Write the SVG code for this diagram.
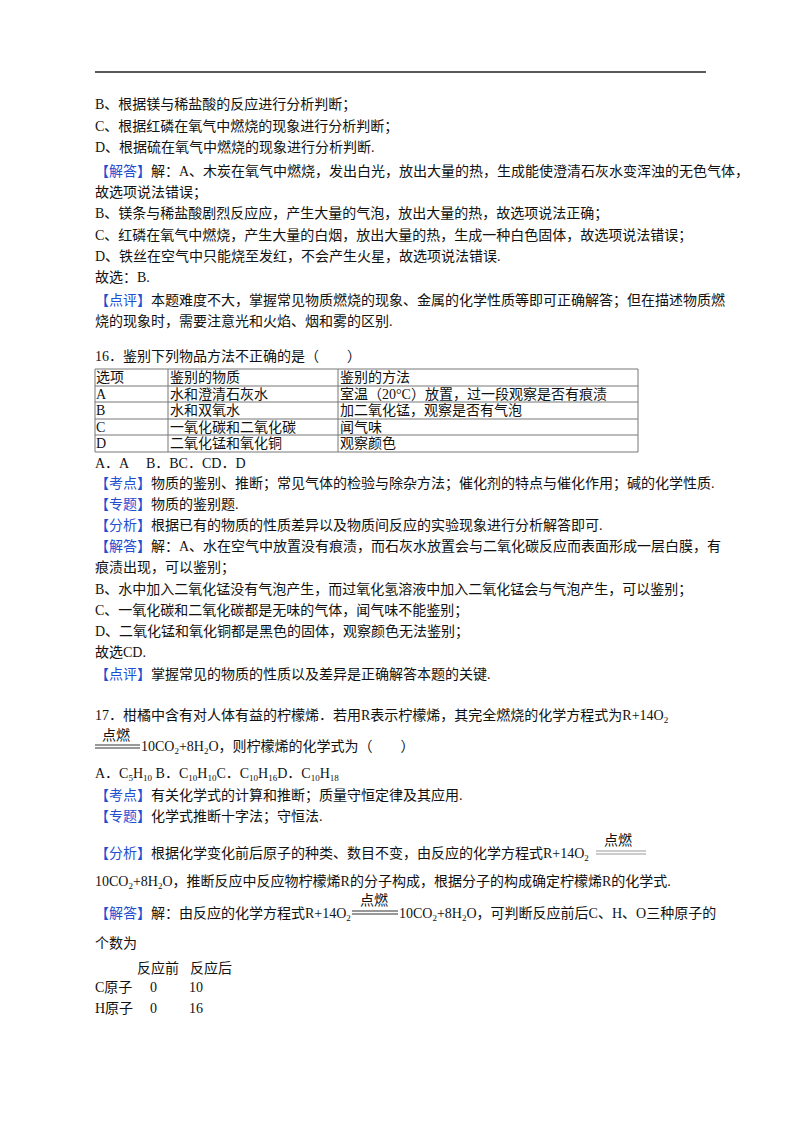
<svg xmlns="http://www.w3.org/2000/svg" width="800" height="1132" viewBox="0 0 800 1132">
<style>
text{font-family:"Liberation Serif","Noto Sans CJK SC",serif;font-size:14px;fill:#111}
.b{fill:#1f4fd0}
.s{font-size:9px}
.t line{stroke:#777;stroke-width:1}
</style>
<rect width="800" height="1132" fill="#fff"/>
<line x1="95" y1="72" x2="706" y2="72" stroke="#222" stroke-width="1.5"/>
<g id="text1">
<text x="95" y="109">B、根据镁与稀盐酸的反应进行分析判断；</text>
<text x="95" y="131">C、根据红磷在氧气中燃烧的现象进行分析判断；</text>
<text x="95" y="152">D、根据硫在氧气中燃烧的现象进行分析判断.</text>
<text x="95" y="176"><tspan class="b">【解答】</tspan>解：A、木炭在氧气中燃烧，发出白光，放出大量的热，生成能使澄清石灰水变浑浊的无色气体，</text>
<text x="95" y="197">故选项说法错误；</text>
<text x="95" y="218">B、镁条与稀盐酸剧烈反应应，产生大量的气泡，放出大量的热，故选项说法正确；</text>
<text x="95" y="240">C、红磷在氧气中燃烧，产生大量的白烟，放出大量的热，生成一种白色固体，故选项说法错误；</text>
<text x="95" y="261">D、铁丝在空气中只能烧至发红，不会产生火星，故选项说法错误.</text>
<text x="95" y="282">故选：B.</text>
<text x="95" y="305"><tspan class="b">【点评】</tspan>本题难度不大，掌握常见物质燃烧的现象、金属的化学性质等即可正确解答；但在描述物质燃</text>
<text x="95" y="326">烧的现象时，需要注意光和火焰、烟和雾的区别.</text>
<text x="95" y="361">16．鉴别下列物品方法不正确的是（　　）</text>
</g>
<g id="table" class="t">
<line x1="95" y1="369" x2="638" y2="369"/><line x1="95" y1="386" x2="638" y2="386"/>
<line x1="95" y1="402" x2="638" y2="402"/><line x1="95" y1="419" x2="638" y2="419"/>
<line x1="95" y1="435" x2="638" y2="435"/><line x1="95" y1="452" x2="638" y2="452"/>
<line x1="95" y1="369" x2="95" y2="452"/><line x1="168" y1="369" x2="168" y2="452"/>
<line x1="338" y1="369" x2="338" y2="452"/><line x1="638" y1="369" x2="638" y2="452"/>
<text x="96" y="382">选项</text><text x="170" y="382">鉴别的物质</text><text x="340" y="382">鉴别的方法</text>
<text x="96" y="399">A</text><text x="170" y="399">水和澄清石灰水</text><text x="340" y="399">室温（20°C）放置，过一段观察是否有痕渍</text>
<text x="96" y="415">B</text><text x="170" y="415">水和双氧水</text><text x="340" y="415">加二氧化锰，观察是否有气泡</text>
<text x="96" y="432">C</text><text x="170" y="432">一氧化碳和二氧化碳</text><text x="340" y="432">闻气味</text>
<text x="96" y="448">D</text><text x="170" y="448">二氧化锰和氧化铜</text><text x="340" y="448">观察颜色</text>
</g>
<g id="text2">
<text x="95" y="468">A．A　 B．BC．CD．D</text>
<text x="95" y="488"><tspan class="b">【考点】</tspan>物质的鉴别、推断；常见气体的检验与除杂方法；催化剂的特点与催化作用；碱的化学性质.</text>
<text x="95" y="509"><tspan class="b">【专题】</tspan>物质的鉴别题.</text>
<text x="95" y="530"><tspan class="b">【分析】</tspan>根据已有的物质的性质差异以及物质间反应的实验现象进行分析解答即可.</text>
<text x="95" y="551"><tspan class="b">【解答】</tspan>解：A、水在空气中放置没有痕渍，而石灰水放置会与二氧化碳反应而表面形成一层白膜，有</text>
<text x="95" y="572">痕渍出现，可以鉴别；</text>
<text x="95" y="594">B、水中加入二氧化锰没有气泡产生，而过氧化氢溶液中加入二氧化锰会与气泡产生，可以鉴别；</text>
<text x="95" y="615">C、一氧化碳和二氧化碳都是无味的气体，闻气味不能鉴别；</text>
<text x="95" y="636">D、二氧化锰和氧化铜都是黑色的固体，观察颜色无法鉴别；</text>
<text x="95" y="657">故选CD.</text>
<text x="95" y="679"><tspan class="b">【点评】</tspan>掌握常见的物质的性质以及差异是正确解答本题的关键.</text>
<text x="95" y="720">17．柑橘中含有对人体有益的柠檬烯．若用R表示柠檬烯，其完全燃烧的化学方程式为R+14O<tspan class="s" dy="3">2</tspan></text>
<text x="102" y="740" font-size="15">点燃</text>
<line x1="95" y1="745" x2="140" y2="745" stroke="#333" stroke-width="1"/><line x1="95" y1="748" x2="140" y2="748" stroke="#333" stroke-width="1"/>
<text x="141" y="751">10CO<tspan class="s" dy="3">2</tspan><tspan dy="-3">+8H</tspan><tspan class="s" dy="3">2</tspan><tspan dy="-3">O，则柠檬烯的化学式为（　　）</tspan></text>
<text x="95" y="778">A．C<tspan class="s" dy="3">5</tspan><tspan dy="-3">H</tspan><tspan class="s" dy="3">10</tspan><tspan dy="-3"> B．C</tspan><tspan class="s" dy="3">10</tspan><tspan dy="-3">H</tspan><tspan class="s" dy="3">10</tspan><tspan dy="-3">C．C</tspan><tspan class="s" dy="3">10</tspan><tspan dy="-3">H</tspan><tspan class="s" dy="3">16</tspan><tspan dy="-3">D．C</tspan><tspan class="s" dy="3">10</tspan><tspan dy="-3">H</tspan><tspan class="s" dy="3">18</tspan></text>
<text x="95" y="800"><tspan class="b">【考点】</tspan>有关化学式的计算和推断；质量守恒定律及其应用.</text>
<text x="95" y="821"><tspan class="b">【专题】</tspan>化学式推断十字法；守恒法.</text>
<text x="95" y="858"><tspan class="b">【分析】</tspan>根据化学变化前后原子的种类、数目不变，由反应的化学方程式R+14O<tspan class="s" dy="3">2</tspan></text>
<text x="604" y="845" font-size="15">点燃</text>
<line x1="596" y1="851" x2="646" y2="851" stroke="#999" stroke-width="1"/><line x1="596" y1="854" x2="646" y2="854" stroke="#999" stroke-width="1"/>
<text x="95" y="886">10CO<tspan class="s" dy="3">2</tspan><tspan dy="-3">+8H</tspan><tspan class="s" dy="3">2</tspan><tspan dy="-3">O，推断反应中反应物柠檬烯R的分子构成，根据分子的构成确定柠檬烯R的化学式.</tspan></text>
<text x="95" y="918"><tspan class="b">【解答】</tspan>解：由反应的化学方程式R+14O<tspan class="s" dy="3">2</tspan></text>
<text x="360" y="905" font-size="15">点燃</text>
<line x1="352" y1="911" x2="398" y2="911" stroke="#333" stroke-width="1"/><line x1="352" y1="914" x2="398" y2="914" stroke="#333" stroke-width="1"/>
<text x="399" y="918">10CO<tspan class="s" dy="3">2</tspan><tspan dy="-3">+8H</tspan><tspan class="s" dy="3">2</tspan><tspan dy="-3">O，可判断反应前后C、H、O三种原子的</tspan></text>
<text x="95" y="948">个数为</text>
<text x="137" y="973">反应前</text><text x="190" y="973">反应后</text>
<text x="95" y="992">C原子</text><text x="150" y="992">0</text><text x="189" y="992">10</text>
<text x="95" y="1013">H原子</text><text x="150" y="1013">0</text><text x="189" y="1013">16</text>
</g>
</svg>
